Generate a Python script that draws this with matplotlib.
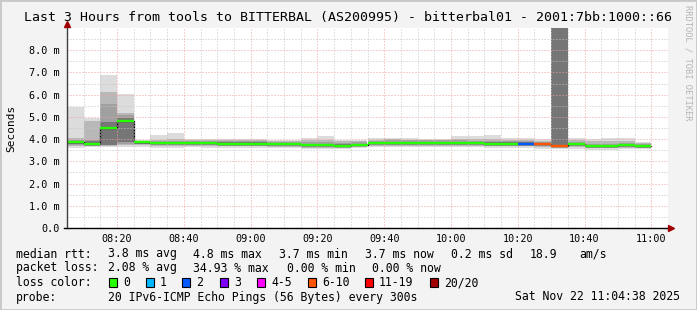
import matplotlib
matplotlib.use("Agg")
from matplotlib import pyplot as plt
from matplotlib.patches import Rectangle
from matplotlib.lines import Line2D

W, H = 697, 310

# 5 minute bins, start time of each
bin_start = ["08:05", "08:10", "08:15", "08:20", "08:25", "08:30", "08:35",
             "08:40", "08:45", "08:50", "08:55", "09:00", "09:05", "09:10",
             "09:15", "09:20", "09:25", "09:30", "09:35", "09:40", "09:45",
             "09:50", "09:55", "10:00", "10:05", "10:10", "10:15", "10:20",
             "10:25", "10:30", "10:35", "10:40", "10:45", "10:50", "10:55"]

# median rtt in ms
median = [3.85, 3.79, 4.48, 4.80, 3.85, 3.81, 3.81, 3.82, 3.81, 3.80, 3.80, 3.80,
          3.77, 3.78, 3.74, 3.74, 3.71, 3.75, 3.82, 3.84, 3.84, 3.84, 3.84, 3.84,
          3.82, 3.80, 3.80, 3.80, 3.76, 3.70, 3.76, 3.70, 3.70, 3.73, 3.70]

# smoke, outer to inner (upper edges)
hi1 = [5.45, 4.93, 6.88, 6.05, 3.95, 4.18, 4.28, 4.00, 4.00, 4.00, 4.00, 4.00,
       3.98, 3.98, 4.06, 4.13, 3.98, 3.96, 4.07, 4.07, 4.04, 4.00, 4.00, 4.13,
       4.13, 4.18, 4.03, 4.03, 3.99, 12.0, 4.03, 3.99, 4.03, 4.03, 3.88]
hi2 = [4.03, 4.81, 6.13, 5.18, 3.93, 3.98, 4.00, 3.96, 3.96, 3.96, 3.96, 3.95,
       3.93, 3.93, 3.96, 3.98, 3.92, 3.91, 3.98, 3.99, 3.98, 3.96, 3.96, 4.00,
       3.99, 4.00, 3.95, 3.95, 3.93, 12.0, 3.95, 3.90, 3.92, 3.92, 3.84]
hi3 = [3.98, 3.98, 5.57, 5.08, 3.91, 3.92, 3.92, 3.92, 3.91, 3.90, 3.90, 3.90,
       3.87, 3.88, 3.85, 3.86, 3.82, 3.85, 3.92, 3.94, 3.94, 3.94, 3.94, 3.94,
       3.92, 3.90, 3.90, 3.90, 3.87, 12.0, 3.86, 3.80, 3.80, 3.83, 3.80]
hi4 = [3.93, 3.90, 4.78, 4.95, 3.89, 3.87, 3.87, 3.88, 3.87, 3.86, 3.86, 3.86,
       3.83, 3.84, 3.80, 3.80, 3.77, 3.80, 3.87, 3.89, 3.89, 3.89, 3.89, 3.89,
       3.87, 3.85, 3.85, 3.85, 3.81, 12.0, 3.81, 3.75, 3.75, 3.78, 3.75]
# smoke, lower edges
lo4 = [3.78, 3.74, 3.75, 3.89, 3.80, 3.76, 3.76, 3.77, 3.76, 3.75, 3.75, 3.75,
       3.72, 3.73, 3.70, 3.70, 3.67, 3.71, 3.77, 3.79, 3.79, 3.79, 3.79, 3.79,
       3.77, 3.75, 3.75, 3.75, 3.72, 3.67, 3.72, 3.66, 3.66, 3.69, 3.66]
lo3 = [3.74, 3.70, 3.72, 3.80, 3.76, 3.72, 3.72, 3.73, 3.72, 3.71, 3.71, 3.71,
       3.68, 3.69, 3.66, 3.66, 3.63, 3.67, 3.73, 3.75, 3.75, 3.75, 3.75, 3.75,
       3.73, 3.71, 3.71, 3.71, 3.68, 3.64, 3.68, 3.62, 3.62, 3.65, 3.62]
lo2 = [3.68, 3.67, 3.68, 3.72, 3.72, 3.68, 3.68, 3.69, 3.68, 3.67, 3.67, 3.67,
       3.64, 3.65, 3.62, 3.62, 3.60, 3.63, 3.69, 3.71, 3.71, 3.71, 3.71, 3.71,
       3.69, 3.67, 3.67, 3.67, 3.64, 3.60, 3.64, 3.58, 3.58, 3.61, 3.59]
lo1 = [3.58, 3.63, 3.63, 3.63, 3.65, 3.62, 3.62, 3.63, 3.62, 3.61, 3.61, 3.61,
       3.58, 3.59, 3.57, 3.57, 3.55, 3.58, 3.64, 3.66, 3.66, 3.66, 3.66, 3.66,
       3.64, 3.62, 3.62, 3.62, 3.55, 3.55, 3.55, 3.52, 3.53, 3.56, 3.56]

# lost pings (of 20) per bin
lost = [0, 0, 0, 0, 0, 0, 0, 0, 0, 0, 0, 0, 0, 0, 0, 0, 0, 0, 0, 0, 0, 0, 0, 0,
        0, 0, 0, 2, 7, 7, 0, 0, 0, 0, 0]

loss_labels = ["0", "1", "2", "3", "4-5", "6-10", "11-19", "20/20"]
loss_colors = ["#26ff00", "#00b8ff", "#0059ff", "#7e00ff",
               "#ff00ff", "#ff5500", "#ff0000", "#a10000"]

x_labels = ["08:20", "08:40", "09:00", "09:20", "09:40", "10:00", "10:20", "10:40", "11:00"]
y_values = [0, 1, 2, 3, 4, 5, 6, 7, 8]

title = "Last 3 Hours from tools to BITTERBAL (AS200995) - bitterbal01 - 2001:7bb:1000::66"
rtt_items = ["3.8 ms avg", "4.8 ms max", "3.7 ms min", "3.7 ms now", "0.2 ms sd", "18.9", "am/s"]
loss_items = ["2.08 % avg", "34.93 % max", "0.00 % min", "0.00 % now"]
probe_text = "20 IPv6-ICMP Echo Pings (56 Bytes) every 300s"
stamp = "Sat Nov 22 11:04:38 2025"

MONO = "DejaVu Sans Mono"
plt.rcParams["font.family"] = MONO


def tmin(s):
    h, m = s.split(":")
    return int(h) * 60 + int(m)


def lcol(n):
    if n <= 3:
        return loss_colors[n]
    if n <= 5:
        return loss_colors[4]
    if n <= 10:
        return loss_colors[5]
    if n <= 19:
        return loss_colors[6]
    return loss_colors[7]


def fx(x):
    return x / W


def fy(y):
    return 1 - y / H


t = [tmin(s) for s in bin_start]

fig = plt.figure(figsize=(W / 100, H / 100), dpi=100)
fig.patch.set_facecolor("#f3f3f3")
fig.patches.append(Rectangle((0, 0), 1, 1, transform=fig.transFigure,
                             fill=False, edgecolor="#c8c8c8", linewidth=2))

ax = fig.add_axes([fx(67), fy(228), fx(668) - fx(67), fy(28) - fy(228)])
ax.set_facecolor("white")
ax.set_xlim(tmin("08:05"), tmin("11:05"))
ax.set_ylim(0, 9.0)

# smoke
layers = [(lo1, hi1, "#dcdcdc"), (lo2, hi2, "#b8b8b8"),
          (lo3, hi3, "#a0a0a0"), (lo4, hi4, "#767676")]
for lo, hi, c in layers:
    ax.bar(t, [h - l for h, l in zip(hi, lo)], width=5, bottom=lo,
           align="edge", color=c, linewidth=0, zorder=1)

# median
ax.step(t + [t[-1] + 5], median + [median[-1]], where="post",
        color="black", linewidth=0.9, zorder=2)
ax.hlines(median, t, [v + 5 for v in t], colors=[lcol(n) for n in lost],
          linewidth=1.7, zorder=3)

# grid
ax.set_xticks([tmin(s) for s in x_labels])
ax.set_xticklabels(x_labels)
ax.set_xticks(range(tmin("08:05"), tmin("11:05") + 1, 5), minor=True)
ax.set_yticks(y_values)
ax.set_yticklabels(["0.0"] + ["%.1f m" % v for v in y_values[1:]])
ax.set_yticks([v + 0.5 for v in y_values], minor=True)
ax.set_axisbelow(False)
ax.grid(which="minor", color="#c4c4c4", linestyle=(0, (1, 2)), linewidth=0.72)
ax.grid(which="major", color="#eea0a0", linestyle=(0, (1, 2)), linewidth=0.72)
ax.tick_params(which="both", length=0)
ax.tick_params(axis="x", pad=4, labelsize=7.3)
ax.tick_params(axis="y", pad=5.5, labelsize=7.3)
for sp in ax.spines.values():
    sp.set_visible(False)

# axes with arrows
fig.add_artist(Line2D([fx(67), fx(67)], [fy(228), fy(24)], color="#404040", linewidth=1))
fig.add_artist(Line2D([fx(64), fx(670)], [fy(228), fy(228)], color="black", linewidth=1))
fig.add_artist(Line2D([fx(67)], [fy(24)], marker="^", markersize=4.5,
                      color="#a00000", linestyle="none"))
fig.add_artist(Line2D([fx(671)], [fy(228)], marker=">", markersize=4.5,
                      color="#a00000", linestyle="none"))

# texts
fig.text(fx(348), fy(18), title, ha="center", va="center", fontsize=9.5)
fig.text(fx(11), fy(128), "Seconds", rotation=90, ha="center", va="center", fontsize=8)
fig.text(fx(688), fy(5), "RRDTOOL / TOBI OETIKER", rotation=270, ha="center",
         va="top", fontsize=6.3, color="#b4b4b4")

fs = 8.3
rows = {"rtt": 254, "loss": 268, "color": 282.5, "probe": 297}
fig.text(fx(16), fy(rows["rtt"]), "median rtt:", va="center", fontsize=fs)
for x, s in zip([107.6, 193.3, 279, 365, 451, 530, 579], rtt_items):
    fig.text(fx(x), fy(rows["rtt"]), s, va="center", fontsize=fs)

fig.text(fx(16), fy(rows["loss"]), "packet loss:", va="center", fontsize=fs)
for x, s in zip([107.6, 193.3, 286.7, 372.4], loss_items):
    fig.text(fx(x), fy(rows["loss"]), s, va="center", fontsize=fs)

fig.text(fx(16), fy(rows["color"]), "loss color:", va="center", fontsize=fs)
for x, lab, c in zip([109, 146, 182, 220, 257, 308, 365, 430], loss_labels, loss_colors):
    fig.patches.append(Rectangle((fx(x), fy(rows["color"] + 4.5)), fx(8), 9 / H,
                                 transform=fig.transFigure, facecolor=c,
                                 edgecolor="black", linewidth=0.8))
    fig.text(fx(x + 14), fy(rows["color"]), lab, va="center", fontsize=fs)

fig.text(fx(16), fy(rows["probe"]), "probe:", va="center", fontsize=fs)
fig.text(fx(107.6), fy(rows["probe"]), probe_text, va="center", fontsize=fs)
fig.text(fx(680), fy(rows["probe"]), stamp, va="center", ha="right", fontsize=fs)

fig.savefig("out.png", dpi=100, facecolor=fig.get_facecolor())
